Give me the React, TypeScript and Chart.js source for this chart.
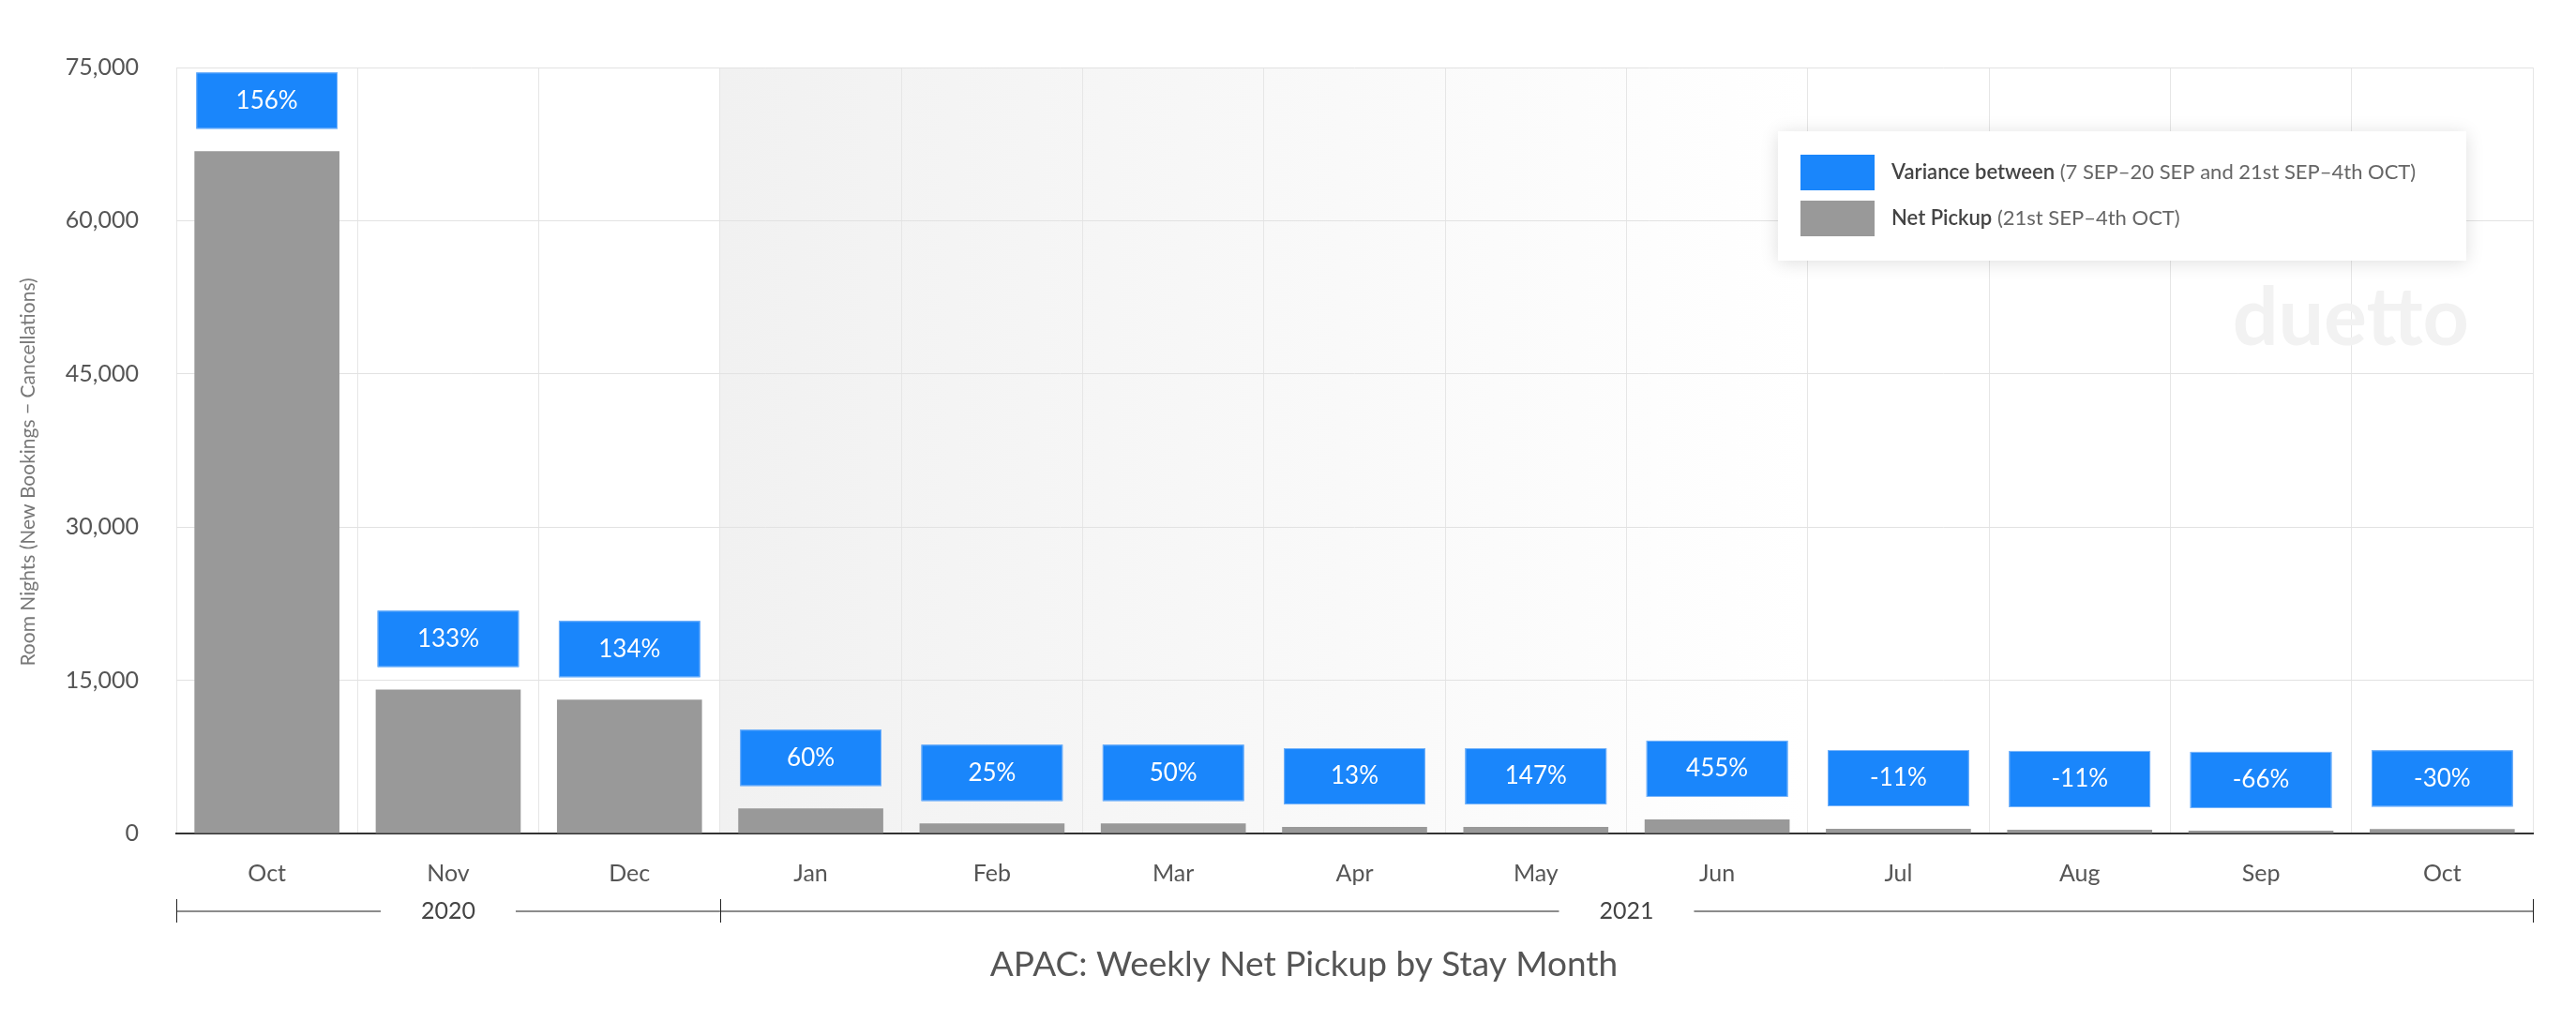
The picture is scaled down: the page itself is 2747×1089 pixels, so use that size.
import { useEffect, useRef } from "react";
import { Chart, registerables, ChartConfiguration, Plugin } from "chart.js";

Chart.register(...registerables);

const months = ["Oct", "Nov", "Dec", "Jan", "Feb", "Mar", "Apr", "May", "Jun", "Jul", "Aug", "Sep", "Oct"];
const netPickup = [66800, 14100, 13100, 2450, 980, 980, 640, 640, 1380, 460, 370, 280, 430];
const varianceLabels = ["156%", "133%", "134%", "60%", "25%", "50%", "13%", "147%", "455%", "-11%", "-11%", "-66%", "-30%"];
const years = ["2020", "2021"];
const monthsPerYear = [3, 10];
const yTicks = [0, 15000, 30000, 45000, 60000, 75000];
// Jan..Jun band
const shadedFrom = 3;
const shadedTo = 8;

const FONT = "Lato, 'Open Sans', sans-serif";
const BLUE = "#1a86fb";
const GRAY = "#999999";

const decorPlugin: Plugin<"bar"> = {
  id: "decor",
  beforeDraw(chart) {
    const { ctx, chartArea } = chart;
    const x = chart.scales.x;
    const step = x.getPixelForValue(1) - x.getPixelForValue(0);
    const x0 = x.getPixelForValue(shadedFrom) - step / 2;
    const x1 = x.getPixelForValue(shadedTo) + step / 2;
    const grad = ctx.createLinearGradient(x0, 0, x1, 0);
    grad.addColorStop(0, "#f1f1f1");
    grad.addColorStop(1, "#ffffff");
    ctx.save();
    ctx.fillStyle = grad;
    ctx.fillRect(x0, chartArea.top, x1 - x0, chartArea.bottom - chartArea.top);
    ctx.restore();
  },
  beforeDatasetsDraw(chart) {
    const { ctx, chartArea } = chart;
    ctx.save();
    ctx.font = `700 86px ${FONT}`;
    ctx.fillStyle = "#f2f2f2";
    ctx.textAlign = "right";
    ctx.textBaseline = "alphabetic";
    ctx.fillText("duetto", chartArea.right - 68, chartArea.top + 296);
    ctx.restore();
  },
  afterDatasetsDraw(chart) {
    const { ctx } = chart;
    const meta = chart.getDatasetMeta(0);
    ctx.save();
    meta.data.forEach((el: any, i: number) => {
      const w = el.width - 4;
      const left = el.x - w / 2;
      const bottom = el.y - 24;
      const top = bottom - 60;
      ctx.fillStyle = BLUE;
      ctx.fillRect(left, top, w, 60);
      ctx.strokeStyle = "rgba(120,180,250,1)";
      ctx.lineWidth = 1;
      ctx.strokeRect(left + 0.5, top + 0.5, w - 1, 59);
      ctx.fillStyle = "#ffffff";
      ctx.font = `400 26px ${FONT}`;
      ctx.textAlign = "center";
      ctx.textBaseline = "middle";
      ctx.fillText(varianceLabels[i], el.x, top + 30);
    });
    ctx.restore();
  },
  afterDraw(chart) {
    const { ctx, chartArea } = chart;
    const x = chart.scales.x;
    const step = x.getPixelForValue(1) - x.getPixelForValue(0);

    // year row under the month labels
    const rowY = chartArea.bottom + 83;
    let startIdx = 0;
    ctx.save();
    ctx.font = `400 25px ${FONT}`;
    ctx.textAlign = "center";
    ctx.textBaseline = "middle";
    const edges: number[] = [x.getPixelForValue(0) - step / 2];
    years.forEach((yr, k) => {
      const endIdx = startIdx + monthsPerYear[k] - 1;
      const a = x.getPixelForValue(startIdx) - step / 2;
      const b = x.getPixelForValue(endIdx) + step / 2;
      edges.push(b);
      const cx = (a + b) / 2;
      ctx.strokeStyle = "#8c8c8c";
      ctx.lineWidth = 2;
      ctx.beginPath();
      ctx.moveTo(a, rowY);
      ctx.lineTo(cx - 72, rowY);
      ctx.moveTo(cx + 72, rowY);
      ctx.lineTo(b, rowY);
      ctx.stroke();
      ctx.fillStyle = "#444";
      ctx.fillText(yr, cx, rowY);
      startIdx = endIdx + 1;
    });
    ctx.strokeStyle = "#222";
    ctx.lineWidth = 1;
    edges.forEach((e) => {
      ctx.beginPath();
      ctx.moveTo(Math.round(e) + 0.5, rowY - 13);
      ctx.lineTo(Math.round(e) + 0.5, rowY + 12);
      ctx.stroke();
    });

    // y axis title
    ctx.save();
    ctx.translate(30, (chartArea.top + chartArea.bottom) / 2 + 23);
    ctx.rotate(-Math.PI / 2);
    ctx.font = `400 21px ${FONT}`;
    ctx.fillStyle = "#777";
    ctx.fillText("Room Nights (New Bookings \u2212 Cancellations)", 0, 0);
    ctx.restore();

    // main title
    ctx.font = `400 37px ${FONT}`;
    ctx.fillStyle = "#555";
    ctx.textBaseline = "alphabetic";
    ctx.fillText("APAC: Weekly Net Pickup by Stay Month", chart.width / 2 + 17, chartArea.bottom + 152);

    // legend
    const lw = 734;
    const lh = 138;
    const lx = chartArea.right - 71 - lw;
    const ly = chartArea.top + 68;
    ctx.save();
    ctx.shadowColor = "rgba(0,0,0,0.13)";
    ctx.shadowBlur = 18;
    ctx.shadowOffsetY = 2;
    ctx.fillStyle = "#ffffff";
    ctx.fillRect(lx, ly, lw, lh);
    ctx.restore();

    const items = [
      { color: BLUE, bold: "Variance between", rest: " (7 SEP\u201320 SEP and 21st SEP\u20134th OCT)" },
      { color: GRAY, bold: "Net Pickup", rest: " (21st SEP\u20134th OCT)" },
    ];
    items.forEach((it, k) => {
      const sy = ly + 25 + k * 49;
      ctx.fillStyle = it.color;
      ctx.fillRect(lx + 24, sy, 79, 38);
      ctx.textAlign = "left";
      ctx.textBaseline = "middle";
      ctx.font = `600 22px ${FONT}`;
      ctx.fillStyle = "#444";
      ctx.fillText(it.bold, lx + 121, sy + 19);
      const bw = ctx.measureText(it.bold).width;
      ctx.font = `400 22px ${FONT}`;
      ctx.fillStyle = "#666";
      ctx.fillText(it.rest, lx + 121 + bw, sy + 19);
    });
    ctx.restore();
  },
};

export default function App() {
  const canvasRef = useRef<HTMLCanvasElement>(null);
  const chartRef = useRef<Chart | null>(null);

  useEffect(() => {
    if (!canvasRef.current) return;
    if (chartRef.current) chartRef.current.destroy();

    const config: ChartConfiguration<"bar"> = {
      type: "bar",
      data: {
        labels: months,
        datasets: [
          {
            label: "Net Pickup",
            data: netPickup,
            backgroundColor: GRAY,
            barPercentage: 0.8,
            categoryPercentage: 1.0,
          },
        ],
      },
      options: {
        animation: false,
        responsive: true,
        maintainAspectRatio: false,
        layout: { padding: { top: 72, right: 46, bottom: 0, left: 0 } },
        plugins: {
          legend: { display: false },
          tooltip: { enabled: false },
          title: { display: false },
        },
        scales: {
          x: {
            type: "category",
            grid: { offset: true, color: "#e6e6e6", lineWidth: 1, drawTicks: false },
            border: { color: "#333", width: 2 },
            ticks: { font: { family: FONT, size: 25 }, color: "#555", padding: 28 },
            afterFit(scale) {
              scale.height = 200;
            },
          },
          y: {
            min: 0,
            max: 75000,
            afterBuildTicks(scale) {
              scale.ticks = yTicks.map((v) => ({ value: v }));
            },
            grid: { color: "#e2e2e2", lineWidth: 1, drawTicks: false },
            border: { display: false },
            ticks: {
              font: { family: FONT, size: 25 },
              color: "#555",
              padding: 40,
              callback: (v) => Number(v).toLocaleString("en-US"),
            },
            afterFit(scale) {
              scale.width = 188;
            },
          },
        },
      },
      plugins: [decorPlugin],
    };

    chartRef.current = new Chart(canvasRef.current, config);
    return () => {
      chartRef.current?.destroy();
      chartRef.current = null;
    };
  }, []);

  return (
    <div style={{ position: "absolute", left: 0, top: 0, width: 2747, height: 1089, background: "#fff" }}>
      <canvas ref={canvasRef}></canvas>
    </div>
  );
}
